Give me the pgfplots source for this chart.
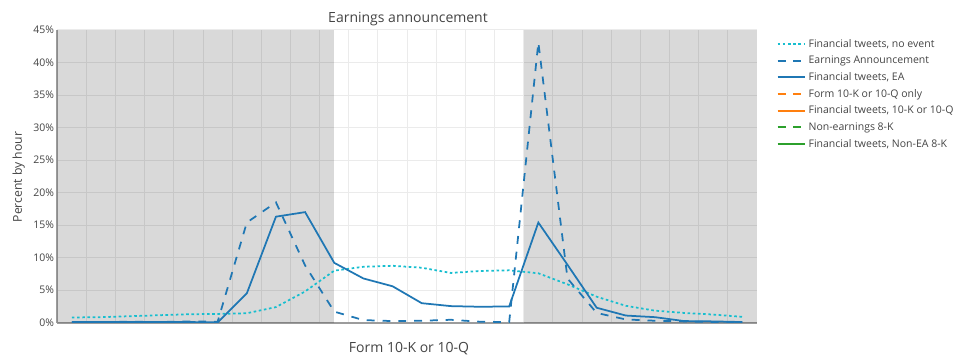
\documentclass[border=0pt]{standalone}
\usepackage{fontspec}
\setmainfont{Open Sans}
\usepackage{pgfplots}
\pgfplotsset{compat=1.18}
\definecolor{tealc}{HTML}{17BECF}
\definecolor{bluec}{HTML}{1F77B4}
\definecolor{orangec}{HTML}{FF7F0E}
\definecolor{greenc}{HTML}{2CA02C}
\definecolor{txt}{HTML}{444444}
\definecolor{axc}{HTML}{9C9C9C}
\definecolor{gridc}{HTML}{EBEBEB}
\begin{document}
\begin{tikzpicture}
\begin{axis}[
  at={(0,0)}, anchor=south west,
  scale only axis, width=699.7bp, height=292.7bp,
  xmin=-0.5, xmax=23.5, ymin=0, ymax=45,
  axis lines*=left,
  axis line style={draw=axc, line width=1.6bp},
  xtick={0.5,1.5,...,22.5}, xticklabels={},
  ytick={0,5,10,15,20,25,30,35,40,45},
  yticklabels={0\%,5\%,10\%,15\%,20\%,25\%,30\%,35\%,40\%,45\%},
  major tick length=0pt,
  grid=major, grid style={draw=gridc, line width=1bp},
  yticklabel style={font=\fontsize{10.5bp}{12bp}\selectfont, text=txt, inner sep=0pt, xshift=-3bp},
  legend style={draw=none, fill=none, at={(1,1)}, anchor=north west, xshift=19.7bp, yshift=-7.2bp,
    inner sep=0pt, outer sep=0pt, row sep=3.3bp, column sep=1bp,
    font=\fontsize{10.5bp}{12bp}\selectfont, text=txt},
  legend cell align=left,
  legend image code/.code={\draw[#1, line width=1.9bp] (0bp,0bp) -- (13.5bp,0bp) -- (27bp,0bp);},
]
\addplot[fill=black, fill opacity=0.15, draw=none, forget plot] coordinates {(-0.5,0) (-0.5,45) (9,45) (9,0)} -- cycle;
\addplot[fill=black, fill opacity=0.15, draw=none, forget plot] coordinates {(15.5,0) (15.5,45) (23.5,45) (23.5,0)} -- cycle;

\addplot[tealc, line width=1.75bp, dash pattern=on 2.6bp off 2.6bp, mark=none] coordinates {
(0,0.8) (1,0.85) (2,1.0) (3,1.15) (4,1.3) (5,1.35) (6,1.45) (7,2.4) (8,4.8) (9,8.0)
(10,8.6) (11,8.75) (12,8.45) (13,7.65) (14,7.95) (15,8.05) (16,7.6) (17,5.9) (18,4.0)
(19,2.6) (20,1.85) (21,1.5) (22,1.25) (23,0.9)};
\addlegendentry{Financial tweets, no event}

\addplot[bluec, line width=1.75bp, dash pattern=on 7.9bp off 7.9bp, mark=none] coordinates {
(0,0.05) (1,0.1) (2,0.15) (3,0.1) (4,0.2) (5,0.15) (6,15.4) (7,18.5) (8,8.8) (9,1.7)
(10,0.4) (11,0.25) (12,0.3) (13,0.45) (14,0.15) (15,0.1) (16,43.1) (17,6.8) (18,1.5)
(19,0.5) (20,0.3) (21,0.2) (22,0.1) (23,0.05)};
\addlegendentry{Earnings Announcement}

\addplot[bluec, line width=1.75bp, mark=none] coordinates {
(0,0.1) (1,0.1) (2,0.1) (3,0.1) (4,0.1) (5,0.05) (6,4.5) (7,16.3) (8,17.0) (9,9.2)
(10,6.8) (11,5.6) (12,3.0) (13,2.55) (14,2.45) (15,2.5) (16,15.4) (17,8.9) (18,2.3)
(19,1.1) (20,0.85) (21,0.25) (22,0.2) (23,0.1)};
\addlegendentry{Financial tweets, EA}

\addlegendimage{orangec, dash pattern=on 7.9bp off 7.9bp}
\addlegendentry{Form 10-K or 10-Q only}
\addlegendimage{orangec}
\addlegendentry{Financial tweets, 10-K or 10-Q}
\addlegendimage{greenc, dash pattern=on 7.9bp off 7.9bp}
\addlegendentry{Non-earnings 8-K}
\addlegendimage{greenc}
\addlegendentry{Financial tweets, Non-EA 8-K}
\end{axis}
\node[font=\fontsize{14bp}{16bp}\selectfont, text=txt] at (350.7bp,303.2bp) {Earnings announcement};
\node[rotate=90, font=\fontsize{12.2bp}{14bp}\selectfont, text=txt] at (-38.5bp,145.7bp) {Percent by hour};
\node[font=\fontsize{14bp}{16bp}\selectfont, text=txt] at (351.7bp,-26.3bp) {Form 10-K or 10-Q};
\pgfresetboundingbox
\path (-57.3bp,-38.3bp) rectangle (902.7bp,322.7bp);
\end{tikzpicture}
\end{document}
